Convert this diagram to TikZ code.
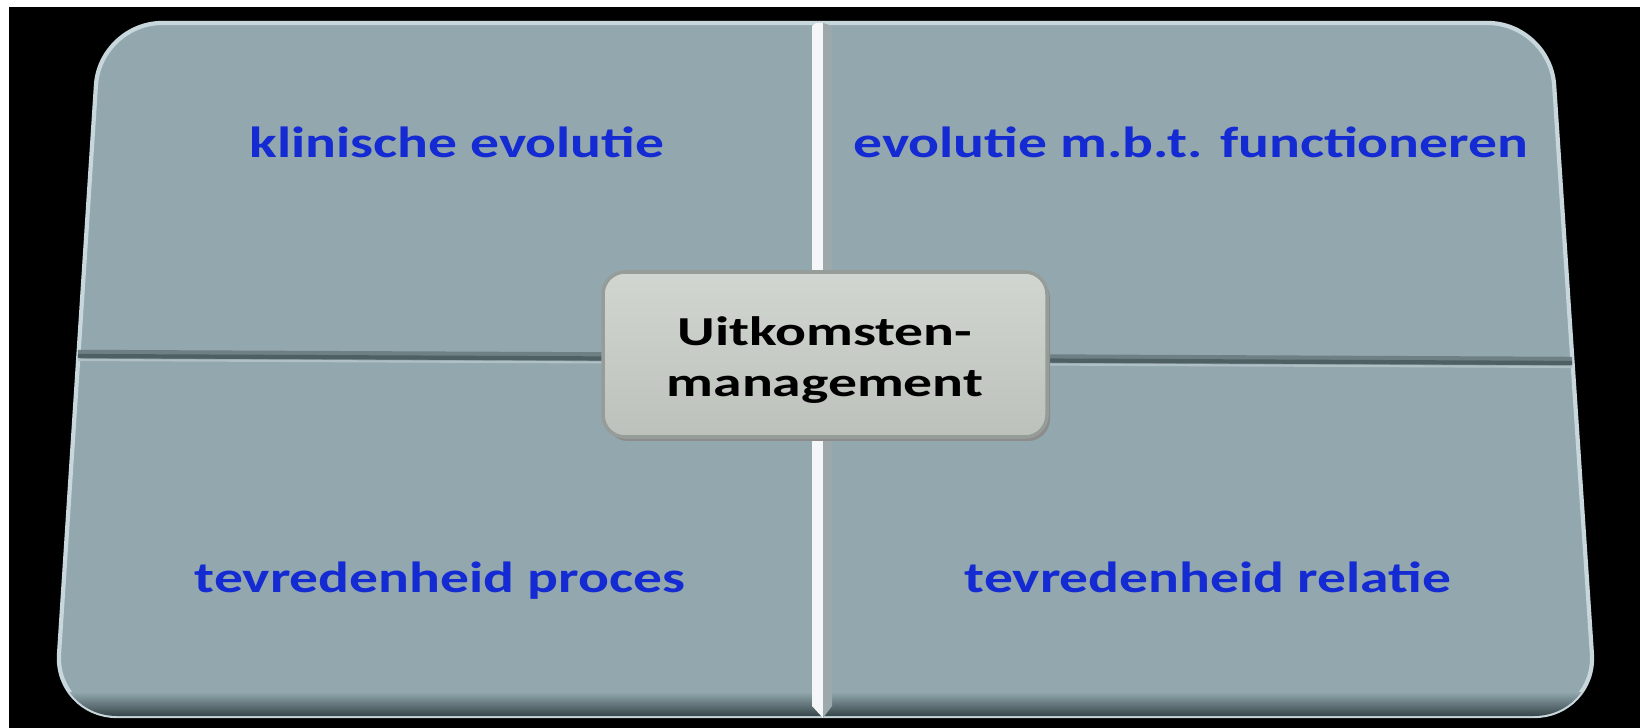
\documentclass[tikz,border=0pt]{standalone}
\usepackage{fontspec}
\setmainfont{Carlito}
\usetikzlibrary{calc}
\definecolor{boardfill}{RGB}{146,168,174}
\definecolor{boardrim}{RGB}{200,215,220}
\definecolor{boardshadow}{RGB}{48,62,66}
\definecolor{labelblue}{RGB}{20,42,210}
\definecolor{grooveDark}{RGB}{78,96,100}
\definecolor{grooveMid}{RGB}{110,128,132}
\definecolor{grooveLight}{RGB}{176,192,196}
\definecolor{centerTop}{RGB}{210,214,209}
\definecolor{centerBot}{RGB}{188,193,188}
\definecolor{centerEdge}{RGB}{150,156,152}
\tikzset{
  quadlabel/.style={anchor=base, text=labelblue, font=\fontsize{12.4}{14}\selectfont\bfseries, inner sep=0pt},
  centerlabel/.style={align=center, text=black, font=\fontsize{11.7}{14.6}\selectfont\bfseries, inner sep=0pt},
}
\newcommand{\stretchx}[1]{\scalebox{1.32}[1]{#1}}
\newcommand{\stretchc}[1]{\scalebox{1.40}[1]{#1}}
\begin{document}
\begin{tikzpicture}[x=0.01cm,y=-0.01cm]
\useasboundingbox (0,0) rectangle (1640,728);
\fill[white] (0,0) rectangle (1640,728);
\fill[black] (9,7) rectangle (1640,728);
% board
\path[fill=boardfill, draw=boardrim, line width=1.2pt, rounded corners=0.62cm]
  (100,23) -- (1550,23) -- (1596,716) -- (55,716) -- cycle;
\begin{scope}
  \clip[rounded corners=0.62cm] (100,23) -- (1550,23) -- (1596,716) -- (55,716) -- cycle;
  \shade[top color=boardfill, bottom color=boardshadow] (0,692) rectangle (1640,718);
\end{scope}
% horizontal groove
\coordinate (hl) at (78,354);
\coordinate (hr) at (1572,361);
\draw[grooveMid, line width=2.4pt] (hl) -- (hr);
\draw[grooveDark, line width=1.2pt] ($(hl)+(0,2)$) -- ($(hr)+(0,2)$);
\draw[grooveLight, line width=0.6pt] ($(hl)+(0,6)$) -- ($(hr)+(0,6)$);
% vertical divider
\fill[white!90!boardfill] (812,26) -- (816,23) -- (823,23) -- (823,718) -- (812,706) -- cycle;
\fill[black!22!boardrim] (823,23) -- (832,26) -- (832,706) -- (823,718) -- cycle;
% center box
\fill[black!45, rounded corners=0.22cm] (606,276) rectangle (1050,441);
\shade[top color=centerTop, bottom color=centerBot, draw=centerEdge, line width=1pt, rounded corners=0.22cm]
  (603,272) rectangle (1047,437);
\node[centerlabel] (center) at (825,361) {\stretchc{\begin{tabular}{@{}c@{}}Uitkomsten-\\management\end{tabular}}};
% quadrant labels
\node[quadlabel] (tl) at (457,158) {\stretchx{klinische evolutie}};
\node[quadlabel] (tr) at (1191,158) {\stretchx{evolutie m.b.t. functioneren}};
\node[quadlabel] (bl) at (440,592) {\stretchx{tevredenheid proces}};
\node[quadlabel] (br) at (1208,592) {\stretchx{tevredenheid relatie}};
\end{tikzpicture}
\end{document}
